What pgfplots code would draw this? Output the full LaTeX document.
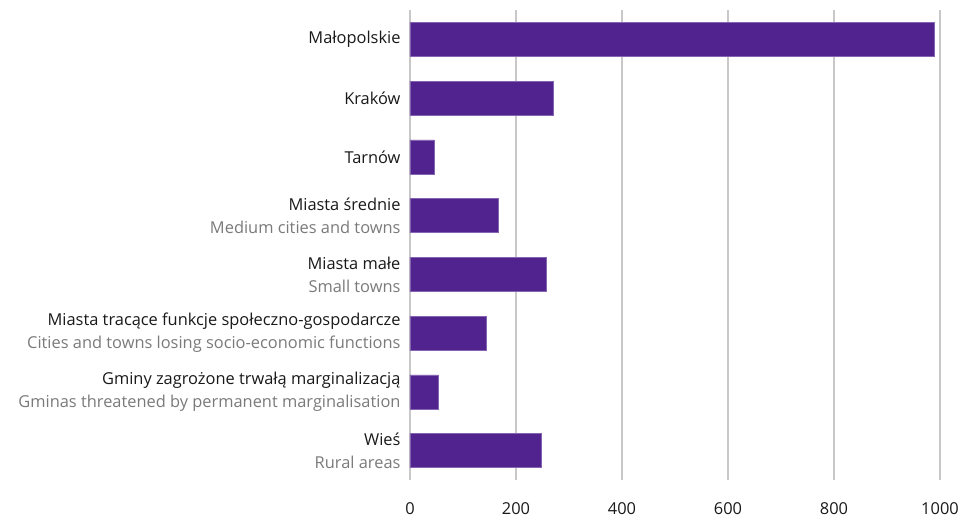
\documentclass[border=0pt]{standalone}
\usepackage{pgfplots}
\pgfplotsset{compat=1.18}
\usepackage{fontspec}
\setmainfont{Open Sans}
\definecolor{barpurple}{HTML}{51238F}
\definecolor{gridgray}{HTML}{C8C8C8}
\definecolor{subgray}{HTML}{7A7A7A}
\newcommand{\sub}[1]{\textcolor{subgray}{#1}}
\begin{document}
\begin{tikzpicture}
\useasboundingbox (-410bp,-39bp) rectangle (550bp,480bp);
\begin{axis}[
    xbar,
    scale only axis,
    width=530bp, height=470bp,
    xmin=0, xmax=1000,
    ymin=-0.5, ymax=7.5,
    y dir=reverse,
    bar width=34bp,
    axis line style={draw=none},
    major tick length=0pt,
    xtick={0,200,...,1000},
    ytick={0,...,7},
    xmajorgrids,
    grid style={gridgray, line width=1.2bp},
    /pgf/number format/1000 sep={},
    /pgf/number format/assume math mode=true,
    tick label style={font=\fontsize{16.4bp}{23bp}\selectfont, text=black!90},
    xticklabel style={yshift=-19bp},
    yticklabel style={align=right, xshift=-6bp},
    yticklabels={
      {Małopolskie},
      {Kraków},
      {Tarnów},
      {Miasta średnie\\\sub{Medium cities and towns}},
      {Miasta małe\\\sub{Small towns}},
      {Miasta tracące funkcje społeczno-gospodarcze\\\sub{Cities and towns losing socio-economic functions}},
      {Gminy zagrożone trwałą marginalizacją\\\sub{Gminas threatened by permanent marginalisation}},
      {Wieś\\\sub{Rural areas}}
    },
  ]
\addplot[fill=barpurple, draw=barpurple!70!white, line width=0.6bp] coordinates {
  (990,0) (270,1) (46,2) (167,3) (257,4) (144,5) (53,6) (248,7)
};
\end{axis}
\end{tikzpicture}
\end{document}
